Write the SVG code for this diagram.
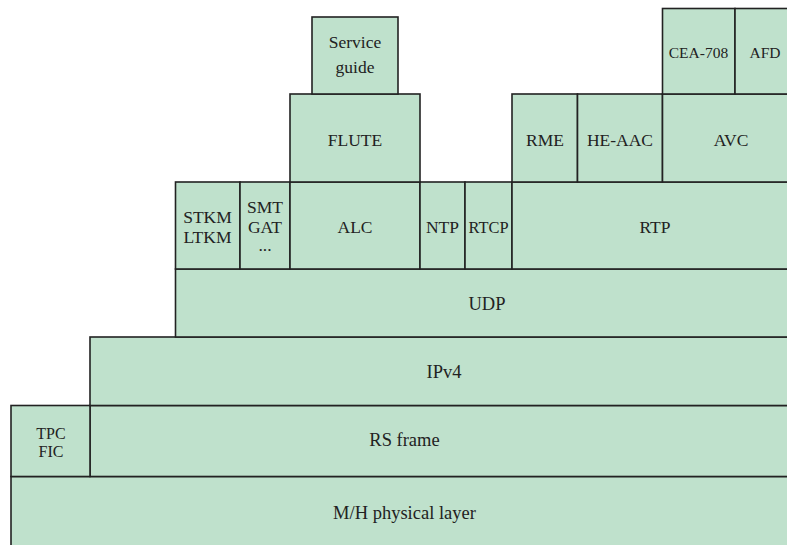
<svg xmlns="http://www.w3.org/2000/svg" width="787" height="545" viewBox="0 0 787 545">
<style>
rect{fill:#bfe1cc;stroke:#222;stroke-width:1.6}
text{fill:#222;text-anchor:middle}
.s{font-size:15.5px}
.b{font-size:18.5px}
.t{font-size:16px}
</style>
<rect width="787" height="545" fill="#fff" style="fill:#fff;stroke:none"/>
<g font-family="Liberation Serif, DejaVu Serif, Noto Serif, serif" font-size="17.5">
<g id="phys"><rect x="11" y="476.5" width="800" height="80"/><text class="b" x="404.5" y="519">M/H physical layer</text></g>
<g id="rs"><rect x="90" y="405.5" width="720" height="71"/><text class="b" x="404.5" y="446">RS frame</text></g>
<g id="tpc"><rect x="11" y="405.5" width="79" height="71"/><text class="t" x="51" y="438.5">TPC</text><text class="t" x="51" y="457">FIC</text></g>
<g id="ipv4"><rect x="90" y="337" width="720" height="68.5"/><text class="b" x="444" y="377.5">IPv4</text></g>
<g id="udp"><rect x="175.5" y="269" width="640" height="68"/><text class="b" x="487" y="309.5">UDP</text></g>
<g id="stkm"><rect x="175.5" y="182" width="64.5" height="87"/><text x="207.5" y="222.5">STKM</text><text x="207.5" y="242.5">LTKM</text></g>
<g id="smt"><rect x="240" y="182" width="50" height="87"/><text x="265" y="213">SMT</text><text x="265" y="232.5">GAT</text><text x="265" y="251">...</text></g>
<g id="alc"><rect x="290" y="182" width="130" height="87"/><text x="355" y="232.5">ALC</text></g>
<g id="ntp"><rect x="420" y="182" width="45" height="87"/><text x="442.5" y="232.5">NTP</text></g>
<g id="rtcp"><rect x="465" y="182" width="47" height="87"/><text x="488.5" y="232.5" textLength="40" lengthAdjust="spacingAndGlyphs">RTCP</text></g>
<g id="rtp"><rect x="512" y="182" width="300" height="87"/><text x="655" y="232.5">RTP</text></g>
<g id="flute"><rect x="290" y="94" width="130" height="88"/><text x="355" y="146">FLUTE</text></g>
<g id="sg"><rect x="312" y="17" width="86" height="77"/><text x="355" y="48">Service</text><text x="355" y="73">guide</text></g>
<g id="rme"><rect x="512" y="94" width="65.5" height="88"/><text x="545" y="146">RME</text></g>
<g id="heaac"><rect x="577.5" y="94" width="85" height="88"/><text x="620" y="146">HE-AAC</text></g>
<g id="avc"><rect x="662.5" y="94" width="150" height="88"/><text x="731" y="146">AVC</text></g>
<g id="cea"><rect x="662.5" y="8.5" width="72.5" height="85.5"/><text class="s" x="698.5" y="57.5">CEA-708</text></g>
<g id="afd"><rect x="735" y="8.5" width="80" height="85.5"/><text class="s" x="765" y="57.5">AFD</text></g>
</g>
<g id="connectors"></g>
</svg>
